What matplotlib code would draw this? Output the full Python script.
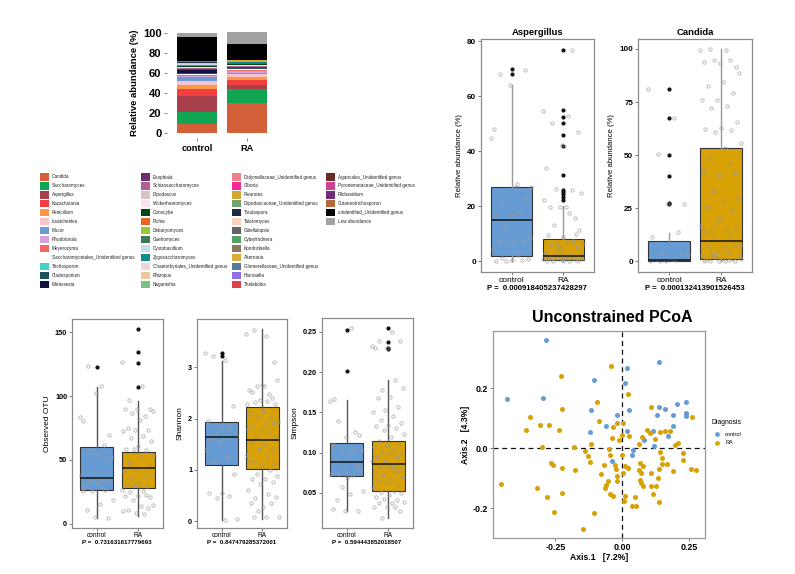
import numpy as np
import matplotlib
matplotlib.use("Agg")
from matplotlib import pyplot as plt
from matplotlib.patches import Rectangle

plt.rcParams['font.family'] = ['Liberation Sans', 'DejaVu Sans']

# ---- composition data (stack order = legend order, bottom first) ----
genera = ["Candida", "Saccharomyces", "Aspergillus", "Kazachstania", "Penicillium",
          "Issatchenkia", "Mucor", "Rhodotorula", "Meyerozyma",
          "Saccharomycetales_Unidentified genus", "Trichosporon", "Cladosporium", "Malassezia",
          "Exophiala", "Schizosaccharomyces", "Dipodascus", "Wickerhamomyces", "Conocybe",
          "Pichia", "Debaryomyces", "Guehomyces", "Cystobasidium", "Zygosaccharomyces",
          "Chaetothyriales_Unidentified genus", "Rhizopus", "Naganishia",
          "Didymellaceae_Unidentified genus", "Ciboria", "Pleurotus",
          "Dipodascaceae_Unidentified genus", "Torulaspora", "Talaromyces", "Gibellulopsis",
          "Cyberlindnera", "Kondrickiella", "Alternaria", "Glomerellaceae_Unidentified genus",
          "Hannaella", "Thelebolus",
          "Agaricales_Unidentified genus", "Pyronemataceae_Unidentified genus", "Filobasidium",
          "Cutaneotrichosporon", "unidentified_Unidentified genus", "Low abundance"]
genus_colors = ["#D4603A", "#0FA552", "#A8404C", "#F24040", "#F89848",
                "#F8C4CC", "#6A9BD3", "#D2A2DA", "#F26666",
                "#FFFFFF", "#45D2C2", "#1C525A", "#111242",
                "#722A72", "#B06292", "#D8C2C2", "#F8E2F0", "#084418",
                "#F06222", "#9ACA32", "#3A7A5A", "#CADAEA", "#108A8A",
                "#EADAD2", "#E8CA9A", "#7AC282",
                "#F2828A", "#F22A92", "#D2AA32",
                "#72A272", "#1E2A42", "#F8D2BA", "#626268",
                "#52A262", "#8A7A62", "#DAAA3A", "#5A7A9A",
                "#9272E2", "#DA424A",
                "#6A2A2A", "#D24292", "#722A7A",
                "#B26A3A", "#000000", "#A2A2A2"]
control_abund = [9, 12, 16, 7, 4, 4, 4, 1.5, 1, 0.5, 0.5, 1, 2.5,
                 1, 1, 0.5, 0.5, 1.5, 0.3, 0.3, 0.3, 0.3, 0.3, 0.3, 0.5, 0.3,
                 0.1, 0.1, 0.1, 0.1, 0.1, 0.1, 0.1, 0.1, 0.1, 0.1, 0.1, 0.1, 0.1,
                 0.1, 0.1, 0.1, 0.1, 24, 4.4]
ra_abund = [30, 14, 4, 5, 3, 3, 1.5, 2, 1, 0.5, 0.5, 0.5, 0.5,
            0.5, 1, 0.5, 1, 0.2, 0.5, 0.3, 0.3, 0.3, 0.5, 0.3, 0.5, 0.2,
            0.1, 0.1, 0.1, 0.1, 0.1, 0.1, 0.1, 0.1, 0.1, 0.1, 0.1, 0.1, 0.1,
            0.1, 0.1, 0.1, 0.1, 15.4, 12]
groups = ["control", "RA"]

# ---- boxplot summaries + jitter points ----
asp_stats = [dict(whislo=0, q1=1.8, med=15, q3=27, whishi=64, fliers=[68, 70]),
             dict(whislo=0, q1=0.5, med=1.8, q3=8.3, whishi=20,
                  fliers=[22.5, 23.5, 24.5, 25.3, 26, 31.5, 42, 46, 50.3, 52.5, 55, 77])]
asp_ctrl = [45, 28.2, 21, 23.2, 17, 17, 18, 12.5, 8.5, 7.6, 7.3, 7, 6.4, 4.4, 2.2, 1.3, 1,
            0.4, 0, 0.4, 0, 27, 27, 68, 69.7, 64.2, 48.3]
asp_ra = [54.8, 52.7, 50.3, 47, 42.2, 34, 25.8, 26.4, 25, 19.8, 19.8, 15.8, 19.8, 22.5, 17.6,
          13.3, 11.3, 9, 9.5, 7.6, 6.4, 6.4, 7, 5.8, 5.2, 3.4, 3, 2.5, 2.2, 2.2, 1.6, 1.2, 1,
          0.7, 1, 0, 0, 0.1, 0.2, 0, 76.7, 5, 1, 1.3, 1, 10, 5.2]

can_stats = [dict(whislo=0, q1=0.2, med=0.5, q3=9.8, whishi=13.5,
                  fliers=[27, 27.5, 40.3, 50.3, 67.3, 81.3]),
             dict(whislo=0, q1=1.0, med=9.5, q3=53.3, whishi=99.8, fliers=[])]
can_ctrl = [81.3, 67.4, 50.4, 27.2, 26.8, 11.5, 13.9, 3.9, 3.6, 1.3, 1.3, 3.6, 0.2, 0, 0.8, 0.3]
can_ra = [99.7, 99.7, 100, 91.7, 93.4, 93.9, 95, 95, 88.7, 84.4, 82.7, 79.2, 76, 76, 73, 72,
          65.4, 63, 62.4, 61.7, 61, 55.6, 53.5, 48.5, 41.4, 40.6, 42.7, 46, 33, 30, 28, 25.7,
          24.1, 18.6, 16.5, 15.1, 14.6, 16.2, 20.2, 13.9, 12.3, 10.7, 7.9, 6.8, 7.2, 7.9, 4.4,
          3.1, 4.4, 3.6, 2.8, 1.3, 0.8, 1.3, 1.6, 1.3, 0, 0, 0.2, 0, 0.3, 0.5, 2.8]

otu_stats = [dict(whislo=4.4, q1=26.7, med=35.8, q3=60.1, whishi=107, fliers=[123]),
             dict(whislo=6.3, q1=28, med=43.4, q3=56.2, whishi=95.9, fliers=[107, 126, 135, 153])]
otu_ctrl = [83.6, 107.7, 123.3, 69.8, 102.4, 80.7, 61.9, 57.5, 52.3, 53.8, 56.7, 49.6, 40.5,
            37.1, 34, 33.7, 34, 31.9, 29.3, 26.7, 25.3, 18.8, 15.7, 11, 4.4, 5, 25.3]
otu_ra = [126.5, 107.7, 96.7, 89.9, 89.9, 89.9, 84.1, 86.8, 88.6, 81.5, 75, 73.7, 73.7, 72.4,
          68.5, 67.2, 64.5, 61.2, 58.5, 58, 58.5, 52.8, 52.8, 47.6, 45.5, 42.3, 41, 37.1, 35.8,
          38.4, 31.9, 31.4, 29.8, 30.6, 26.7, 25.3, 24.6, 20.9, 21.4, 21.4, 22.7, 18.8, 14.9,
          13.6, 11, 12.3, 8.4, 9.7, 7.8]

sh_stats = [dict(whislo=0.02, q1=1.097, med=1.636, q3=1.93, whishi=3.13, fliers=[3.22, 3.28]),
            dict(whislo=0.05, q1=1.02, med=1.59, q3=2.22, whishi=3.75, fliers=[])]
sh_ctrl = [3.28, 3.14, 3.21, 2.25, 1.86, 1.96, 1.8, 1.7, 1.67, 1.6, 1.6, 1.86, 1.54, 1.38,
           1.26, 1.15, 0.92, 0.55, 0.56, 0.5, 0.45, 0.05, 0.03]
sh_ra = [3.64, 3.6, 3.73, 3.1, 2.66, 2.56, 2.48, 2.64, 2.76, 2.64, 2.51, 2.4, 2.36, 2.28, 2.35,
         2.32, 2.28, 2.15, 2.09, 2.03, 2.03, 1.93, 1.9, 1.86, 1.91, 1.77, 1.8, 1.73, 1.64, 1.64,
         1.51, 1.54, 1.38, 1.41, 1.3, 1.28, 1.15, 1.12, 1.1, 1.15, 0.99, 0.92, 0.89, 0.83, 0.83,
         0.76, 0.73, 0.61, 0.53, 0.46, 0.48, 0.27, 0.35, 0.35, 0.21, 0.08, 0.08, 0.09]

sim_stats = [dict(whislo=0.027, q1=0.0708, med=0.0878, q3=0.1115, whishi=0.1656,
                  fliers=[0.201, 0.252]),
             dict(whislo=0.019, q1=0.0525, med=0.0853, q3=0.115, whishi=0.19,
                  fliers=[0.228, 0.23, 0.237, 0.255])]
sim_ctrl = [0.1635, 0.254, 0.139, 0.122, 0.12, 0.11, 0.103, 0.103, 0.103, 0.098, 0.092, 0.085,
            0.082, 0.074, 0.072, 0.074, 0.078, 0.068, 0.166, 0.126, 0.057, 0.053, 0.049, 0.041,
            0.028, 0.028, 0.03]
sim_ra = [0.232, 0.25, 0.238, 0.238, 0.23, 0.23, 0.19, 0.178, 0.18, 0.169, 0.168, 0.157, 0.153,
          0.151, 0.145, 0.141, 0.137, 0.134, 0.133, 0.13, 0.128, 0.123, 0.12, 0.114, 0.111,
          0.109, 0.107, 0.103, 0.101, 0.099, 0.099, 0.095, 0.095, 0.089, 0.089, 0.082, 0.082,
          0.08, 0.082, 0.076, 0.076, 0.072, 0.07, 0.066, 0.066, 0.06, 0.062, 0.057, 0.053,
          0.051, 0.05, 0.047, 0.045, 0.041, 0.043, 0.039, 0.037, 0.037, 0.028, 0.032, 0.032,
          0.032, 0.019]

# ---- PCoA coordinates ----
pc_ctrl_x = [-0.286, -0.43, -0.296, -0.106, -0.118, -0.121, -0.021, -0.061, -0.04, 0.016, 0.01,
             0.024, 0.019, 0.035, 0.039, 0.1375, 0.139, 0.16, 0.129, 0.116, 0.119, 0.083, 0.17,
             0.191, 0.191, 0.204, 0.238, 0.238, 0.238]
pc_ctrl_y = [0.361, 0.164, 0.167, 0.227, 0.128, 0.052, 0.111, 0.072, -0.044, 0.267, 0.217,
             0.126, 0.056, -0.022, -0.008, 0.286, 0.138, 0.131, 0.109, 0.056, 0.006, 0.028,
             0.041, 0.074, 0.111, 0.147, 0.152, 0.117, 0.108]
pc_ra_x = [-0.0425, -0.231, 0.02, -0.227, -0.094, -0.344, -0.361, -0.309, -0.274, -0.236, -0.301,
           -0.18, -0.086, -0.034, -0.021, 0.004, -0.04, 0.001, -0.011, 0.024, -0.116, -0.139,
           -0.13, -0.121, -0.069, -0.046, -0.049, -0.0275, -0.024, -0.021, -0.0525, -0.061,
           -0.021, -0.081, -0.064, -0.046, -0.034, 0.001, 0.01, 0.0225, 0.01, 0.0075, 0.035,
           0.051, 0.0475, 0.064, 0.075, 0.091, 0.104, 0.106, 0.1225, 0.141, 0.161, 0.18, 0.199,
           0.21, 0.141, 0.1475, 0.1475, 0.166, 0.229, 0.226, 0.191, 0.256, 0.276, 0.26, 0.066,
           0.079, 0.064, 0.071, 0.066, 0.07, 0.076, 0.106, 0.106, 0.126, 0.114, 0.139, 0.135,
           0.139, 0.004, -0.4525, -0.321, -0.281, -0.261, -0.265, -0.224, -0.224, -0.178,
           -0.256, -0.105, -0.146]
pc_ra_y = [0.273, 0.241, 0.18, 0.13, 0.153, 0.102, 0.059, 0.077, 0.077, 0.06, 0.003, 0.003,
           0.09, 0.07, 0.083, 0.083, 0.034, 0.044, 0.028, 0.039, 0.014, -0.011, -0.026, -0.048,
           -0.058, -0.024, -0.002, -0.058, -0.07, -0.094, -0.111, -0.122, -0.109, -0.086,
           -0.133, -0.153, -0.161, -0.022, -0.061, -0.067, -0.159, -0.178, -0.192, -0.194,
           -0.164, 0.013, 0.038, 0.061, 0.05, 0.138, 0.03, 0.053, 0.056, 0.058, 0.009, 0.017,
           -0.014, -0.033, -0.052, -0.052, -0.017, -0.039, -0.078, -0.07, -0.074, 0.103, -0.05,
           -0.059, -0.072, -0.083, -0.106, -0.117, -0.126, -0.083, -0.126, -0.126, -0.152,
           -0.181, -0.1, -0.07, -0.083, -0.119, -0.133, -0.164, -0.056, -0.05, -0.067, -0.151,
           -0.074, -0.212, -0.218, -0.27]

C_CTRL = "#669BD3"
C_RA = "#D8A106"
W, H = 795, 574


def px_axes(fig, x0, y0, x1, y1):
    return fig.add_axes([x0 / W, 1 - y1 / H, (x1 - x0) / W, (y1 - y0) / H])


fig = plt.figure(figsize=(W / 100, H / 100), dpi=100)
fig.patch.set_facecolor("white")

# pixel overlay for legend and loose text
ov = fig.add_axes([0, 0, 1, 1])
ov.set_xlim(0, W)
ov.set_ylim(H, 0)
ov.axis("off")
ov.patch.set_alpha(0)

# ---------------- stacked bar ----------------
ax = px_axes(fig, 167, 28, 277, 138)
bottoms = np.zeros(2)
for g, col, a, b in zip(genera, genus_colors, control_abund, ra_abund):
    vals = np.array([a, b])
    ax.bar([1, 2], vals, bottom=bottoms, width=0.8, color=col, linewidth=0)
    bottoms += vals
ax.set_xlim(0.4, 2.6)
ax.set_ylim(-5, 105)
ax.set_yticks([0, 20, 40, 60, 80, 100])
ax.set_xticks([1, 2])
ax.set_xticklabels(groups)
for s in ax.spines.values():
    s.set_visible(False)
ax.tick_params(length=2, width=0.5, color="#555555", pad=2)
ax.tick_params(axis="y", labelsize=8)
ax.tick_params(axis="x", labelsize=6.6)
for lab in ax.get_xticklabels() + ax.get_yticklabels():
    lab.set_fontweight("bold")
ax.set_ylabel("Relative abundance (%)", fontsize=6.8, fontweight="bold", labelpad=3)

# ---------------- genus legend ----------------
col_x = [40, 141, 232, 326]
per_col = 13
for i, (g, col) in enumerate(zip(genera, genus_colors)):
    c, r = divmod(i, per_col)
    yy = 177 + r * 8.95
    if col != "#FFFFFF":
        ov.add_patch(Rectangle((col_x[c], yy - 3.6), 9, 7.2, facecolor=col, edgecolor="none"))
    ov.text(col_x[c] + 12, yy, g, fontsize=3.3, va="center", ha="left", color="#222222")


# ---------------- box plots ----------------
def box_panel(ax, stats, ctrl, ra, ylim, ticks, ylabel, wcol, tsize, xsize, lsize, xpad=1.5):
    bp = ax.bxp(stats, positions=[1, 2], widths=0.8, patch_artist=True, showcaps=False,
                boxprops=dict(edgecolor="#333333", linewidth=0.8),
                medianprops=dict(color="#111111", linewidth=1.1),
                whiskerprops=dict(color=wcol, linewidth=1.0),
                flierprops=dict(marker="o", markersize=2.0, markerfacecolor="#111111",
                                markeredgecolor="#111111"))
    for patch, col in zip(bp["boxes"], [C_CTRL, C_RA]):
        patch.set_facecolor(col)
    for k, vals in enumerate([ctrl, ra]):
        n = len(vals)
        offs = (((np.arange(n) * 0.6180339) % 1.0) - 0.5) * 0.8
        ax.plot(k + 1 + offs, vals, "o", markersize=2.4, markerfacecolor="none",
                markeredgecolor="#9A9A9A", markeredgewidth=0.5, alpha=0.9)
    ax.set_xlim(0.4, 2.6)
    ax.set_ylim(*ylim)
    ax.set_yticks(ticks)
    ax.set_xticks([1, 2])
    ax.set_xticklabels(groups)
    for s in ax.spines.values():
        s.set_color("#8A8A8A")
        s.set_linewidth(0.9)
    ax.tick_params(length=2, width=0.5, color="#444444", pad=1.5)
    ax.tick_params(axis="y", labelsize=tsize)
    ax.tick_params(axis="x", labelsize=xsize, pad=xpad)
    for lab in ax.get_yticklabels():
        lab.set_fontweight("bold")
    ax.set_ylabel(ylabel, fontsize=lsize, labelpad=3)


ax = px_axes(fig, 481, 39, 594, 272)
box_panel(ax, asp_stats, asp_ctrl, asp_ra, (-3.85, 80.85), [0, 20, 40, 60, 80],
          "Relative abundance (%)", "#9A9A9A", 5.8, 6.0, 5.6)
ax.set_title("Aspergillus", fontsize=6.8, fontweight="bold", pad=3)
ov.text(537, 288, "P =  0.000918405237428297", fontsize=5.6, fontweight="bold",
        ha="center", va="center")

ax = px_axes(fig, 638, 39, 752, 272)
box_panel(ax, can_stats, can_ctrl, can_ra, (-5, 104.7), [0, 25, 50, 75, 100],
          "Relative abundance (%)", "#9A9A9A", 5.8, 6.0, 5.6)
ax.set_title("Candida", fontsize=6.8, fontweight="bold", pad=3)
ov.text(695, 288, "P =  0.000132413901526453", fontsize=5.6, fontweight="bold",
        ha="center", va="center")

ax = px_axes(fig, 72, 319, 163, 528)
box_panel(ax, otu_stats, otu_ctrl, otu_ra, (-3.4, 160.5), [0, 50, 100, 150],
          "Observed OTU", "#555555", 5.2, 4.7, 6.0, xpad=0.8)
ov.text(117, 542.5, "P =  0.731631617779693", fontsize=4.4, fontweight="bold",
        ha="center", va="center")

ax = px_axes(fig, 197, 319, 287, 528)
box_panel(ax, sh_stats, sh_ctrl, sh_ra, (-0.13, 3.94), [0, 1, 2, 3],
          "Shannon", "#555555", 5.2, 4.7, 6.0, xpad=0.8)
ov.text(242, 542.5, "P =  0.847479285372001", fontsize=4.4, fontweight="bold",
        ha="center", va="center")

ax = px_axes(fig, 322, 318, 413, 528)
box_panel(ax, sim_stats, sim_ctrl, sim_ra, (0.0065, 0.267), [0.05, 0.10, 0.15, 0.20, 0.25],
          "Simpson", "#555555", 5.2, 4.7, 6.0, xpad=0.8)
ax.set_yticklabels(["0.05", "0.10", "0.15", "0.20", "0.25"])
for lab in ax.get_yticklabels():
    lab.set_fontweight("bold")
ov.text(367, 542.5, "P =  0.594443852018507", fontsize=4.4, fontweight="bold",
        ha="center", va="center")

# ---------------- PCoA ----------------
ax = px_axes(fig, 493, 331, 705, 538)
ax.axhline(0, color="#111111", linestyle=(0, (4, 3)), linewidth=0.9, zorder=1)
ax.axvline(0, color="#111111", linestyle=(0, (4, 3)), linewidth=0.9, zorder=1)
ax.scatter(pc_ctrl_x, pc_ctrl_y, s=13, color=C_CTRL, linewidths=0, zorder=2)
ax.scatter(pc_ra_x, pc_ra_y, s=13, color=C_RA, linewidths=0, zorder=2)
ax.set_xlim(-0.484, 0.31)
ax.set_ylim(-0.30, 0.39)
ax.set_xticks([-0.25, 0, 0.25])
ax.set_xticklabels(["-0.25", "0.00", "0.25"])
ax.set_yticks([-0.2, 0, 0.2])
ax.set_yticklabels(["-0.2", "0.0", "0.2"])
for s in ax.spines.values():
    s.set_color("#9A9A9A")
    s.set_linewidth(0.9)
ax.tick_params(length=2, width=0.5, color="#444444", pad=1.5, labelsize=6.4)
for lab in ax.get_xticklabels() + ax.get_yticklabels():
    lab.set_fontweight("bold")
ax.set_xlabel("Axis.1   [7.2%]", fontsize=6.2, fontweight="bold", labelpad=1)
ax.set_ylabel("Axis.2   [4.3%]", fontsize=6.2, fontweight="bold", labelpad=2)
ov.text(612, 317, "Unconstrained PCoA", fontsize=11.5, fontweight="bold",
        ha="center", va="center")

ov.text(712, 423, "Diagnosis", fontsize=4.9, ha="left", va="center")
ov.plot([717], [434], "o", markersize=3.4, color=C_CTRL, markeredgewidth=0)
ov.plot([717], [443], "o", markersize=3.4, color=C_RA, markeredgewidth=0)
ov.text(725, 434, "control", fontsize=4.0, ha="left", va="center")
ov.text(725, 443, "RA", fontsize=4.0, ha="left", va="center")

fig.savefig("out.png", dpi=100)
